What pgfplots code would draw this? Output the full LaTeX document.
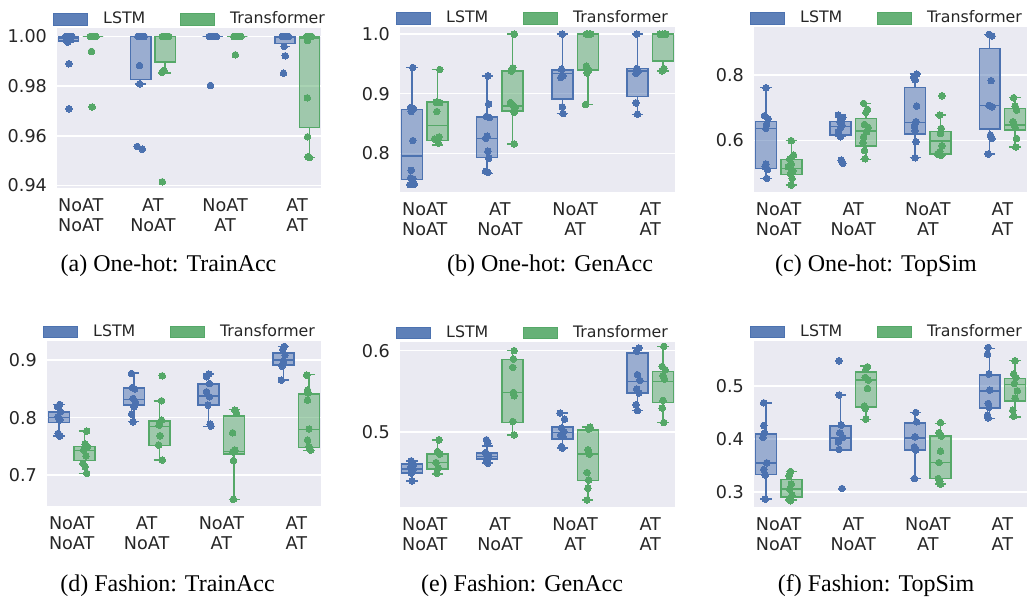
\documentclass[border=0pt]{standalone}
\usepackage{pgfplots}
\pgfplotsset{compat=1.18}
\usepackage{fontspec}
\setmainfont{DejaVu Sans}
\newfontfamily\capfont{Liberation Serif}
\definecolor{lb}{HTML}{4C72B0}
\definecolor{lg}{HTML}{55A868}
\definecolor{bgc}{HTML}{EAEAF2}
\definecolor{tc}{HTML}{262626}
\newcommand\tickfont{\fontsize{8.8}{10}\selectfont}
\newcommand\legfont{\fontsize{7.9}{9.5}\selectfont}
\pgfplotsset{
  panel/.style={
    scale only axis, anchor=south west,
    axis background/.style={fill=bgc},
    axis line style={draw=none},
    major tick length=0pt,
    ymajorgrids, grid style={white, line width=0.75pt},
    xmin=-0.33, xmax=3.33, clip=false,
    xtick={0,1,2,3},
    xticklabels={{NoAT\\NoAT},{AT\\NoAT},{NoAT\\AT},{AT\\AT}},
    xticklabel style={align=center, font=\tickfont, text=tc, yshift=-2pt},
    yticklabel style={font=\tickfont, text=tc, xshift=-1.5pt},
    /pgf/number format/assume math mode=true,
    unbounded coords=jump,
    legend style={draw=none, fill=none, at={(axis description cs:0,1)}, anchor=west,
      xshift=-2pt, yshift=4.4pt, legend columns=2, font=\legfont, text=tc,
      inner sep=0pt, nodes={inner sep=0pt}, column sep=7.5pt,
      /tikz/every even column/.append style={column sep=17.5pt}},
  },
  legL/.style={legend image code/.code={\fill[lb, fill opacity=0.9] (0pt,-2.9pt) rectangle (17pt,2.9pt);}},
  legG/.style={legend image code/.code={\fill[lg, fill opacity=0.9] (0pt,-2.9pt) rectangle (17pt,2.9pt);}},
  ptL/.style={only marks, mark=*, mark size=1.65pt, mark options={fill=lb, draw=lb, line width=0pt}},
  ptG/.style={only marks, mark=*, mark size=1.65pt, mark options={fill=lg, draw=lg, line width=0pt}},
}
% box: colour, position, lower whisker, Q1, median, Q3, upper whisker
\newcommand\bx[7]{%
  \pgfmathsetmacro\xa{#2-0.14}\pgfmathsetmacro\xb{#2+0.14}%
  \pgfmathsetmacro\ca{#2-0.075}\pgfmathsetmacro\cb{#2+0.075}%
  \addplot[draw=#1, fill=#1, fill opacity=0.5, line width=0.75pt] coordinates {(\xa,#4)(\xb,#4)(\xb,#6)(\xa,#6)} -- cycle;
  \addplot[draw=#1, line width=0.75pt] coordinates {(#2,#3)(#2,#4)(nan,nan)(#2,#6)(#2,#7)(nan,nan)(\ca,#3)(\cb,#3)(nan,nan)(\ca,#7)(\cb,#7)(nan,nan)(\xa,#5)(\xb,#5)};
}
\newcommand\legs{\addlegendimage{legL}\addlegendentry{LSTM}\addlegendimage{legG}\addlegendentry{Transformer}}
\begin{document}
\begin{tikzpicture}
\path[use as bounding box] (0,0) rectangle (515.5pt,299.5pt);
% (a) One-hot TrainAcc
\begin{axis}[panel, at={(28.5pt,205.5pt)}, width=132pt, height=80pt, ymin=0.939, ymax=1.0034,
  ytick={0.94,0.96,0.98,1.0}, yticklabel style={/pgf/number format/.cd, fixed, fixed zerofill, precision=2}]
\legs
\bx{lb}{-0.17}{0.9977}{0.9982}{0.9993}{1.0}{1.0}
\bx{lg}{0.17}{1.0}{1.0}{1.0}{1.0}{1.0}
\bx{lb}{0.83}{0.9809}{0.9826}{1.0}{1.0}{1.0}
\bx{lg}{1.17}{0.9852}{0.9898}{1.0}{1.0}{1.0}
\bx{lb}{1.83}{1.0}{1.0}{1.0}{1.0}{1.0}
\bx{lg}{2.17}{1.0}{1.0}{1.0}{1.0}{1.0}
\bx{lb}{2.83}{0.9960}{0.9971}{0.9998}{1.0}{1.0}
\bx{lg}{3.17}{0.9513}{0.9634}{0.9993}{1.0}{1.0}
\addplot[ptL] coordinates {(-0.21,1.0)(-0.14,1.0)(-0.18,1.0)(-0.12,1.0)(-0.16,1.0)(-0.18,0.9977)(-0.166,0.9890)(-0.163,0.9709)
 (0.79,1.0)(0.86,1.0)(0.82,1.0)(0.88,1.0)(0.84,1.0)(0.815,0.9883)(0.815,0.9809)(0.783,0.9557)(0.852,0.9546)
 (1.79,1.0)(1.86,1.0)(1.82,1.0)(1.88,1.0)(1.78,1.0)(1.85,1.0)(1.797,0.9803)
 (2.79,1.0)(2.86,1.0)(2.82,1.0)(2.88,1.0)(2.80,1.0)(2.82,0.9960)(2.835,0.9922)(2.81,0.9852)};
\addplot[ptG] coordinates {(0.13,1.0)(0.19,1.0)(0.16,1.0)(0.21,1.0)(0.15,1.0)(0.18,1.0)(0.148,0.9940)(0.157,0.9716)
 (1.13,1.0)(1.20,1.0)(1.16,1.0)(1.22,1.0)(1.18,1.0)(1.153,0.9863)(1.125,0.9855)(1.13,0.9415)
 (2.13,1.0)(2.20,1.0)(2.16,1.0)(2.22,1.0)(2.12,1.0)(2.19,1.0)(2.143,0.9926)
 (3.13,1.0)(3.18,1.0)(3.16,1.0)(3.20,1.0)(3.144,0.9984)(3.14,0.9753)(3.144,0.9596)(3.15,0.9516)(3.17,0.9513)};
\end{axis}
% (b) One-hot GenAcc
\begin{axis}[panel, at={(200pt,203.5pt)}, width=137.5pt, height=82.5pt, ymin=0.735, ymax=1.012,
  ytick={0.8,0.9,1.0}, yticklabel style={/pgf/number format/.cd, fixed, fixed zerofill, precision=1}]
\legs
\bx{lb}{-0.17}{0.7462}{0.7557}{0.7955}{0.8734}{0.944}
\bx{lg}{0.17}{0.814}{0.8213}{0.8465}{0.8857}{0.9406}
\bx{lb}{0.83}{0.7664}{0.7933}{0.8252}{0.8611}{0.930}
\bx{lg}{1.17}{0.8157}{0.8711}{0.879}{0.9378}{1.0}
\bx{lb}{1.83}{0.8667}{0.8908}{0.934}{0.9395}{1.0}
\bx{lg}{2.17}{0.8818}{0.9395}{1.0}{1.0}{1.0}
\bx{lb}{2.83}{0.8655}{0.8952}{0.9384}{0.9423}{1.0}
\bx{lg}{3.17}{0.9384}{0.9552}{1.0}{1.0}{1.0}
\addplot[ptL] coordinates {(-0.16,0.944)(-0.19,0.8767)(-0.15,0.875)(-0.18,0.870)(-0.16,0.8213)(-0.18,0.7714)(-0.19,0.7585)(-0.16,0.757)(-0.20,0.7473)(-0.14,0.748)
 (0.84,0.930)(0.85,0.8829)(0.82,0.862)(0.86,0.860)(0.83,0.8286)(0.81,0.825)(0.84,0.8034)(0.85,0.7916)(0.81,0.7697)(0.84,0.768)
 (1.83,1.0)(1.82,0.941)(1.84,0.930)(1.81,0.9272)(1.83,0.8779)(1.84,0.8667)
 (2.82,1.0)(2.82,0.9423)(2.84,0.938)(2.81,0.934)(2.81,0.8846)(2.83,0.8655)};
\addplot[ptG] coordinates {(0.20,0.9406)(0.15,0.8857)(0.20,0.885)(0.16,0.870)(0.19,0.8275)(0.13,0.824)(0.18,0.817)
 (1.19,1.0)(1.17,0.9434)(1.15,0.9378)(1.14,0.8852)(1.18,0.880)(1.20,0.8767)(1.19,0.869)(1.19,0.8157)
 (2.15,1.0)(2.19,1.0)(2.21,1.0)(2.17,1.0)(2.15,0.9462)(2.18,0.9395)(2.16,0.935)(2.14,0.8818)
 (3.13,1.0)(3.17,1.0)(3.21,1.0)(3.19,1.0)(3.18,0.9423)(3.16,0.9384)};
\end{axis}
% (c) One-hot TopSim
\begin{axis}[panel, at={(377pt,203.5pt)}, width=136.5pt, height=82.5pt, ymin=0.442, ymax=0.947,
  ytick={0.6,0.8}, yticklabel style={/pgf/number format/.cd, fixed, fixed zerofill, precision=1}]
\legs
\bx{lb}{-0.17}{0.4837}{0.5133}{0.6367}{0.6571}{0.7612}
\bx{lg}{0.17}{0.4633}{0.4959}{0.5133}{0.5418}{0.599}
\bx{lb}{0.83}{0.6112}{0.6163}{0.6418}{0.6571}{0.6776}
\bx{lg}{1.17}{0.5418}{0.5827}{0.6286}{0.6673}{0.7133}
\bx{lb}{1.83}{0.5469}{0.6194}{0.6551}{0.7622}{0.803}
\bx{lg}{2.17}{0.554}{0.5582}{0.598}{0.6265}{0.6776}
\bx{lb}{2.83}{0.5582}{0.6347}{0.7061}{0.8816}{0.9245}
\bx{lg}{3.17}{0.5796}{0.6316}{0.6469}{0.698}{0.7306}
\addplot[ptL] coordinates {(-0.17,0.7612)(-0.19,0.6755)(-0.14,0.666)(-0.16,0.649)(-0.17,0.6367)(-0.17,0.5276)(-0.18,0.5194)(-0.15,0.5112)(-0.16,0.4837)
 (0.80,0.6776)(0.86,0.6704)(0.82,0.6571)(0.85,0.647)(0.83,0.639)(0.80,0.6265)(0.83,0.6112)(0.84,0.5398)(0.86,0.5296)
 (1.85,0.803)(1.81,0.7929)(1.83,0.7847)(1.85,0.7051)(1.84,0.6571)(1.82,0.6439)(1.83,0.6296)(1.84,0.5959)(1.83,0.5469)
 (2.82,0.9245)(2.86,0.9194)(2.85,0.7827)(2.82,0.7071)(2.86,0.7030)(2.84,0.6163)(2.86,0.6061)(2.81,0.5582)};
\addplot[ptG] coordinates {(0.17,0.599)(0.20,0.555)(0.15,0.543)(0.17,0.5276)(0.13,0.5194)(0.19,0.507)(0.16,0.499)(0.18,0.4837)(0.17,0.4633)
 (1.14,0.7133)(1.19,0.6949)(1.17,0.6857)(1.15,0.649)(1.20,0.6398)(1.18,0.6265)(1.14,0.6112)(1.13,0.5929)(1.15,0.5684)(1.16,0.5439)
 (2.19,0.7367)(2.16,0.6776)(2.18,0.6367)(2.17,0.6214)(2.19,0.5837)(2.16,0.5653)(2.13,0.5582)(2.18,0.554)
 (3.15,0.7306)(3.17,0.7051)(3.19,0.6929)(3.14,0.6571)(3.16,0.6469)(3.17,0.6398)(3.19,0.6061)(3.18,0.5796)};
\end{axis}
% (d) Fashion TrainAcc
\begin{axis}[panel, at={(23.5pt,46.5pt)}, width=137pt, height=82.65pt, ymin=0.646, ymax=0.934,
  ytick={0.7,0.8,0.9}, yticklabel style={/pgf/number format/.cd, fixed, fixed zerofill, precision=1}]
\legs
\bx{lb}{-0.17}{0.7678}{0.7916}{0.8003}{0.8096}{0.8229}
\bx{lg}{0.17}{0.7029}{0.7249}{0.7423}{0.7493}{0.7765}
\bx{lb}{0.83}{0.7928}{0.8217}{0.8316}{0.8519}{0.878}
\bx{lg}{1.17}{0.7261}{0.751}{0.7841}{0.7945}{0.8293}
\bx{lb}{1.83}{0.7841}{0.8217}{0.8374}{0.8583}{0.8757}
\bx{lg}{2.17}{0.6577}{0.7365}{0.7406}{0.8026}{0.8142}
\bx{lb}{2.83}{0.8652}{0.8913}{0.9005}{0.9128}{0.924}
\bx{lg}{3.17}{0.7423}{0.7481}{0.7794}{0.8409}{0.875}
\addplot[ptL] coordinates {(-0.16,0.8229)(-0.19,0.8188)(-0.15,0.8104)(-0.18,0.8017)(-0.16,0.7959)(-0.18,0.7725)(-0.16,0.7678)
 (0.80,0.8768)(0.81,0.8525)(0.84,0.850)(0.82,0.8333)(0.85,0.8275)(0.83,0.8188)(0.80,0.8061)(0.82,0.7928)
 (1.83,0.8757)(1.80,0.871)(1.84,0.8594)(1.80,0.8449)(1.84,0.8362)(1.82,0.8217)(1.85,0.7887)(1.86,0.7852)
 (2.84,0.924)(2.82,0.919)(2.85,0.909)(2.83,0.8983)(2.81,0.8896)(2.80,0.8652)};
\addplot[ptG] coordinates {(0.20,0.7765)(0.18,0.7539)(0.21,0.7493)(0.16,0.7435)(0.19,0.733)(0.15,0.7203)(0.18,0.7145)(0.20,0.7029)
 (1.21,0.8728)(1.20,0.8293)(1.20,0.7957)(1.17,0.787)(1.18,0.7684)(1.16,0.7522)(1.21,0.7261)
 (2.18,0.8130)(2.20,0.8084)(2.15,0.7736)(2.18,0.7435)(2.15,0.7406)(2.16,0.7249)(2.16,0.6577)
 (3.14,0.8739)(3.15,0.8478)(3.16,0.8432)(3.15,0.8304)(3.17,0.78)(3.15,0.7609)(3.17,0.7493)(3.19,0.7435)};
\end{axis}
% (e) Fashion GenAcc
\begin{axis}[panel, at={(200pt,46.15pt)}, width=137.5pt, height=82.5pt, ymin=0.4085, ymax=0.611,
  ytick={0.5,0.6}, yticklabel style={/pgf/number format/.cd, fixed, fixed zerofill, precision=1}]
\legs
\bx{lb}{-0.17}{0.4402}{0.4496}{0.4545}{0.4607}{0.4648}
\bx{lg}{0.17}{0.4484}{0.4545}{0.4627}{0.4730}{0.4906}
\bx{lb}{0.83}{0.4619}{0.4668}{0.4701}{0.4742}{0.4832}
\bx{lg}{1.17}{0.4967}{0.5119}{0.5488}{0.5889}{0.6}
\bx{lb}{1.83}{0.4803}{0.4918}{0.4996}{0.5061}{0.5234}
\bx{lg}{2.17}{0.4168}{0.4406}{0.473}{0.5029}{0.5061}
\bx{lb}{2.83}{0.5266}{0.548}{0.5623}{0.5971}{0.6033}
\bx{lg}{3.17}{0.5119}{0.5365}{0.5623}{0.5746}{0.6053}
\addplot[ptL] coordinates {(-0.18,0.4648)(-0.15,0.4607)(-0.19,0.4566)(-0.16,0.4537)(-0.18,0.4496)(-0.17,0.4402)
 (0.82,0.4906)(0.84,0.4865)(0.81,0.4750)(0.85,0.4709)(0.82,0.4668)(0.84,0.4619)
 (1.80,0.5234)(1.86,0.516)(1.82,0.5049)(1.85,0.5008)(1.81,0.4967)(1.84,0.4947)(1.82,0.4824)(1.83,0.4803)
 (2.85,0.6033)(2.82,0.5992)(2.83,0.5705)(2.86,0.5635)(2.82,0.5529)(2.85,0.548)(2.81,0.5336)(2.83,0.5266)};
\addplot[ptG] coordinates {(0.19,0.4906)(0.17,0.4762)(0.20,0.4730)(0.15,0.4627)(0.18,0.4557)(0.16,0.4496)
 (1.19,0.6)(1.18,0.5898)(1.17,0.5795)(1.18,0.5488)(1.19,0.5447)(1.17,0.5131)(1.19,0.4967)
 (2.20,0.5061)(2.18,0.5037)(2.17,0.4783)(2.19,0.473)(2.16,0.4504)(2.18,0.4414)(2.17,0.4311)(2.16,0.4168)
 (3.18,0.6053)(3.16,0.5807)(3.20,0.5766)(3.17,0.5693)(3.19,0.5652)(3.17,0.539)(3.16,0.5295)(3.18,0.5119)};
\end{axis}
% (f) Fashion TopSim
\begin{axis}[panel, at={(377pt,46.15pt)}, width=136.5pt, height=83pt, ymin=0.272, ymax=0.585,
  ytick={0.3,0.4,0.5}, yticklabel style={/pgf/number format/.cd, fixed, fixed zerofill, precision=1}]
\legs
\bx{lb}{-0.17}{0.2862}{0.3327}{0.3547}{0.4088}{0.4679}
\bx{lg}{0.17}{0.2843}{0.2906}{0.305}{0.3233}{0.3384}
\bx{lb}{0.83}{0.3786}{0.3786}{0.4019}{0.4239}{0.4824}
\bx{lg}{1.17}{0.4365}{0.4604}{0.5107}{0.5264}{0.5371}
\bx{lb}{1.83}{0.3252}{0.3786}{0.4019}{0.4302}{0.4497}
\bx{lg}{2.17}{0.3145}{0.3252}{0.3553}{0.405}{0.4289}
\bx{lb}{2.83}{0.4384}{0.4585}{0.4906}{0.5201}{0.5704}
\bx{lg}{3.17}{0.4415}{0.4717}{0.5025}{0.5138}{0.5472}
\addplot[ptL] coordinates {(-0.20,0.4679)(-0.20,0.4252)(-0.19,0.4113)(-0.21,0.4025)(-0.16,0.3547)(-0.20,0.3421)(-0.18,0.3314)(-0.18,0.2862)
 (0.81,0.5472)(0.81,0.4824)(0.84,0.4258)(0.82,0.4113)(0.86,0.4025)(0.80,0.3943)(0.81,0.3799)(0.85,0.3063)
 (1.84,0.4497)(1.85,0.4321)(1.83,0.4038)(1.82,0.3849)(1.84,0.3786)(1.82,0.3252)
 (2.81,0.5723)(2.80,0.5597)(2.82,0.5220)(2.83,0.4918)(2.81,0.4667)(2.82,0.4591)(2.80,0.4447)(2.81,0.4396)};
\addplot[ptG] coordinates {(0.16,0.3384)(0.14,0.3302)(0.17,0.3145)(0.15,0.305)(0.18,0.2937)(0.14,0.2855)(0.16,0.283)
 (1.19,0.5358)(1.17,0.5314)(1.16,0.5157)(1.20,0.5107)(1.19,0.495)(1.15,0.4616)(1.16,0.4572)(1.17,0.4371)
 (2.17,0.4308)(2.15,0.4113)(2.18,0.405)(2.17,0.3767)(2.15,0.3553)(2.14,0.3252)(2.16,0.3189)(2.17,0.3145)
 (3.17,0.5472)(3.15,0.522)(3.18,0.5157)(3.16,0.5044)(3.20,0.4906)(3.17,0.4767)(3.14,0.4541)(3.15,0.4428)};
\end{axis}
\node[font=\capfont\fontsize{12}{14}\selectfont, inner sep=0pt] at (84.25pt,166.5pt) {(a) One-hot: TrainAcc};
\node[font=\capfont\fontsize{12}{14}\selectfont, inner sep=0pt] at (275pt,166.5pt) {(b) One-hot: GenAcc};
\node[font=\capfont\fontsize{12}{14}\selectfont, inner sep=0pt] at (438pt,166.5pt) {(c) One-hot: TopSim};
\node[font=\capfont\fontsize{12}{14}\selectfont, inner sep=0pt] at (83.75pt,6.5pt) {(d) Fashion: TrainAcc};
\node[font=\capfont\fontsize{12}{14}\selectfont, inner sep=0pt] at (261pt,6.5pt) {(e) Fashion: GenAcc};
\node[font=\capfont\fontsize{12}{14}\selectfont, inner sep=0pt] at (438pt,6.5pt) {(f) Fashion: TopSim};
\end{tikzpicture}
\end{document}
